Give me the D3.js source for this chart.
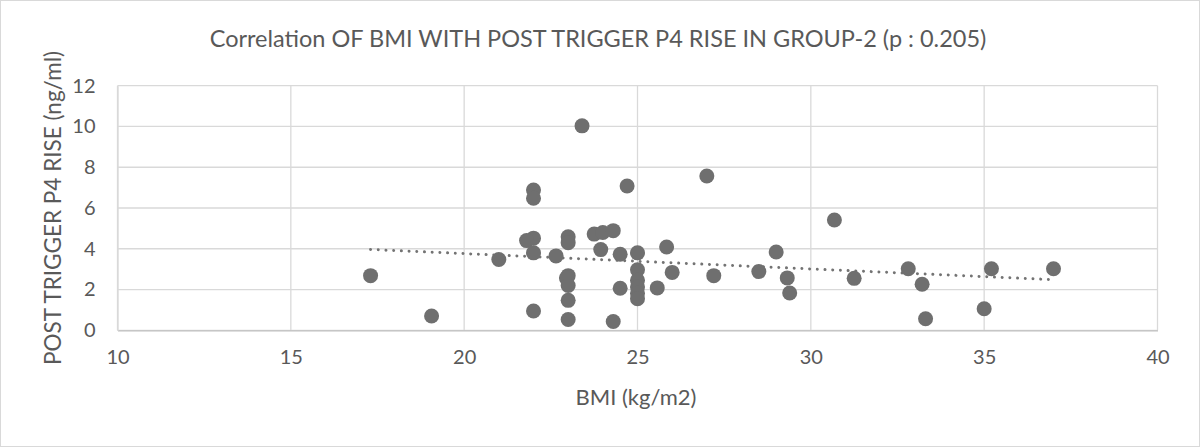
<!DOCTYPE html>
<html>
<head>
<meta charset="utf-8">
<script src="https://cdn.jsdelivr.net/npm/d3@7"></script>
<style>
  html, body { margin: 0; padding: 0; background: #fff; }
  svg { display: block; }
  text { font-family: Lato, "Open Sans", sans-serif; fill: #595959; }
</style>
</head>
<body>
<svg id="chart" width="1200" height="447"></svg>
<script>
// ---- data ----
const bmi = [17.3, 19.06, 21.0, 22.0, 22.0, 22.0, 21.8, 22.0, 22.0, 22.65,
             23.0, 23.0, 23.0, 22.95, 23.0, 23.0, 23.0, 23.4, 23.75, 24.0,
             24.3, 23.94, 24.5, 24.7, 24.5, 24.3, 25.0, 25.0, 25.0, 25.0,
             25.0, 25.0, 25.57, 25.84, 26.0, 27.0, 27.2, 28.5, 29.0, 29.32,
             29.39, 30.68, 31.25, 32.81, 33.21, 33.31, 35.0, 35.21, 37.0];
const p4Rise = [2.68, 0.7, 3.47, 6.88, 6.48, 4.52, 4.4, 3.8, 0.95, 3.65,
                4.59, 4.3, 2.68, 2.56, 2.2, 1.47, 0.53, 10.03, 4.72, 4.8,
                4.89, 3.96, 3.73, 7.08, 2.06, 0.43, 3.8, 2.97, 2.45, 2.12,
                1.82, 1.55, 2.08, 4.09, 2.84, 7.57, 2.68, 2.88, 3.84, 2.57,
                1.83, 5.41, 2.55, 3.02, 2.26, 0.57, 1.06, 3.02, 3.02];
const xTicks = [10, 15, 20, 25, 30, 35, 40];
const yTicks = [0, 2, 4, 6, 8, 10, 12];
const titleText = "Correlation OF BMI WITH POST TRIGGER P4 RISE IN GROUP-2 (p : 0.205)";
const xLabel = "BMI (kg/m2)";
const yLabel = "POST TRIGGER P4 RISE (ng/ml)";

// ---- layout ----
const W = 1200, H = 447;
const plot = { left: 117.5, right: 1157.5, top: 85.7, bottom: 330.3 };
const svg = d3.select("#chart");

svg.append("rect").attr("x", 0.5).attr("y", 0.5).attr("width", W - 1).attr("height", H - 1)
  .attr("fill", "#fff").attr("stroke", "#d9d9d9");

const x = d3.scaleLinear().domain([10, 40]).range([plot.left, plot.right]);
const y = d3.scaleLinear().domain([0, 12]).range([plot.bottom, plot.top]);

// gridlines
svg.append("g").selectAll("line.h").data(yTicks).join("line")
  .attr("x1", plot.left).attr("x2", plot.right)
  .attr("y1", d => y(d)).attr("y2", d => y(d))
  .attr("stroke", "#d9d9d9").attr("stroke-width", 1.3);
svg.append("g").selectAll("line.v").data(xTicks).join("line")
  .attr("y1", plot.top).attr("y2", plot.bottom)
  .attr("x1", d => x(d)).attr("x2", d => x(d))
  .attr("stroke", "#d9d9d9").attr("stroke-width", 1.3);

// axes (labels only)
const xAxis = svg.append("g").attr("transform", `translate(0,${plot.bottom})`)
  .call(d3.axisBottom(x).tickValues(xTicks).tickSize(0).tickPadding(20));
xAxis.select(".domain").attr("stroke", "#bfbfbf").attr("stroke-width", 1.3);
xAxis.selectAll("text").style("font-size", "20px").attr("fill", "#595959")
  .style("font-family", "Lato, sans-serif");

const yAxis = svg.append("g").attr("transform", `translate(${plot.left},0)`)
  .call(d3.axisLeft(y).tickValues(yTicks).tickSize(0).tickPadding(22));
yAxis.select(".domain").attr("stroke", "#d9d9d9").attr("stroke-width", 1.3);
yAxis.selectAll("text").style("font-size", "20px").attr("fill", "#595959")
  .style("font-family", "Lato, sans-serif");

// trendline (least squares)
const n = bmi.length;
const mx = d3.mean(bmi), my = d3.mean(p4Rise);
let sxy = 0, sxx = 0;
for (let i = 0; i < n; i++) { sxy += (bmi[i] - mx) * (p4Rise[i] - my); sxx += (bmi[i] - mx) ** 2; }
const slope = sxy / sxx, intercept = my - slope * mx;
const [xmin, xmax] = d3.extent(bmi);
svg.append("line")
  .attr("x1", x(xmin)).attr("y1", y(intercept + slope * xmin))
  .attr("x2", x(xmax)).attr("y2", y(intercept + slope * xmax))
  .attr("stroke", "#737373").attr("stroke-width", 3)
  .attr("stroke-linecap", "round").attr("stroke-dasharray", "0.01 7.7");

// points
svg.append("g").selectAll("circle").data(bmi.map((b, i) => [b, p4Rise[i]])).join("circle")
  .attr("cx", d => x(d[0])).attr("cy", d => y(d[1])).attr("r", 7.5)
  .attr("fill", "#6f6f6f");

// titles
svg.append("text").attr("x", 598).attr("y", 47).attr("text-anchor", "middle")
  .style("font-size", "23.5px").text(titleText);
svg.append("text").attr("x", 636).attr("y", 405).attr("text-anchor", "middle")
  .style("font-size", "22px").text(xLabel);
svg.append("text").attr("transform", `translate(61,${(plot.top + plot.bottom) / 2}) rotate(-90)`)
  .attr("text-anchor", "middle").style("font-size", "22.5px").text(yLabel);
</script>
</body>
</html>
